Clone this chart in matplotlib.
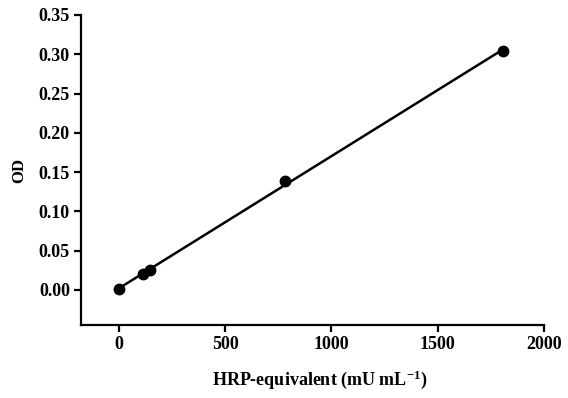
import numpy as np
import matplotlib
matplotlib.use("Agg")
import matplotlib.pyplot as plt

plt.rcParams['font.family'] = ['Liberation Serif', 'DejaVu Serif']
plt.rcParams['font.weight'] = 'bold'
plt.rcParams['mathtext.default'] = 'regular'

# standard curve data
hrp = [0, 111, 146, 781, 1808]
od = [0.001, 0.020, 0.0255, 0.139, 0.304]

xticks = [0, 500, 1000, 1500, 2000]
yticks = [0.00, 0.05, 0.10, 0.15, 0.20, 0.25, 0.30, 0.35]

fig = plt.figure(figsize=(5.68, 3.98), dpi=100)
ax = fig.add_axes([0.1426, 0.1834, 0.815, 0.779])

# linear fit line
k, b = np.polyfit(hrp, od, 1)
xl = np.array([min(hrp), max(hrp)])
ax.plot(xl, k * xl + b, color='black', lw=1.8, zorder=2)
ax.plot(hrp, od, 'o', color='black', ms=7.5, zorder=3)

ax.set_xlim(-179, 2000)
ax.set_ylim(-0.0446, 0.35)
ax.set_xticks(xticks)
ax.set_yticks(yticks)
ax.set_xticklabels([str(t) for t in xticks])
ax.set_yticklabels(['%.2f' % t for t in yticks])

for s in ['top', 'right']:
    ax.spines[s].set_visible(False)
for s in ['left', 'bottom']:
    ax.spines[s].set_linewidth(1.6)
ax.tick_params(width=1.6, length=5, labelsize=13, direction='out', pad=3)

ax.set_xlabel(r'HRP-equivalent (mU mL$^{-1}$)', fontsize=13, fontweight='bold', labelpad=11)
ax.xaxis.label.set_x(0.516)
ax.set_ylabel('OD', fontsize=12, fontweight='bold', labelpad=8)

fig.savefig('out.png', dpi=100)
